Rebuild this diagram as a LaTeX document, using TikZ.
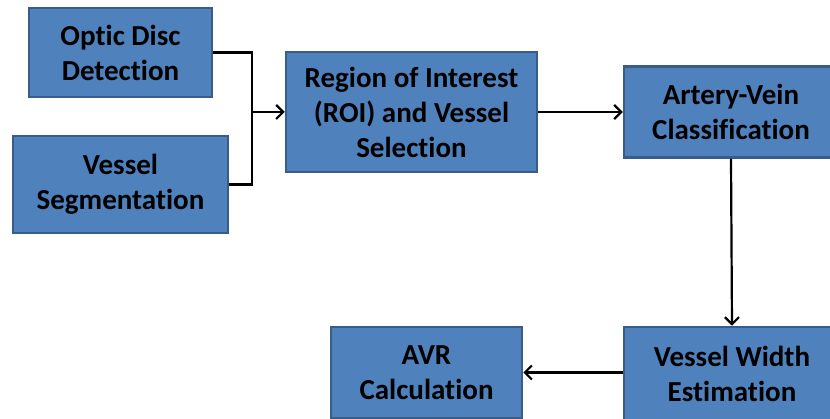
\documentclass[tikz,border=0pt]{standalone}
\usepackage{fontspec}
\setmainfont{Carlito}[Ligatures=NoCommon]
\usetikzlibrary{arrows.meta}
\definecolor{boxfill}{HTML}{4F81BD}
\definecolor{boxline}{HTML}{385D8A}
\begin{document}
\begin{tikzpicture}[x=1pt,y=-1pt,
  blk/.style={draw=boxline, line width=2.5pt, fill=boxfill, align=center,
    font=\fontsize{29}{35}\selectfont\bfseries, text=black, inner sep=0pt},
  conn/.style={line width=2.2pt, black},
  arr/.style={conn, -{Straight Barb[length=7pt,width=14pt,line width=2.2pt]}}]
\useasboundingbox (0,0) rectangle (830,419);
\clip (0,0) rectangle (830,419);
\node[blk, minimum width=183pt, minimum height=89pt] (od) at (120.5,52.5) {Optic Disc\\Detection};
\node[blk, minimum width=215pt, minimum height=97pt] (vs) at (120.5,184.5) {Vessel\\Segmentation};
\node[blk, minimum width=251pt, minimum height=120pt] (roi) at (411.5,112) {Region of Interest\\(ROI) and Vessel\\Selection};
\node[blk, minimum width=214pt, minimum height=91pt] (av) at (731,112) {Artery-Vein\\Classification};
\node[blk, minimum width=216pt, minimum height=94pt] (vw) at (732,374) {Vessel Width\\Estimation};
\node[blk, minimum width=191pt, minimum height=91pt] (avr) at (426.5,372.5) {AVR\\Calculation};
\coordinate (j) at (252,112);
\draw[conn] (od.east) -| (j);
\draw[conn] (vs.east) -| (j);
\draw[arr] (j) -- (roi.west);
\draw[arr] (roi.east) -- (av.west);
\draw[arr] (av.south) -- (vw.north);
\draw[arr] (vw.west |- avr.east) -- (avr.east);
\end{tikzpicture}
\end{document}
